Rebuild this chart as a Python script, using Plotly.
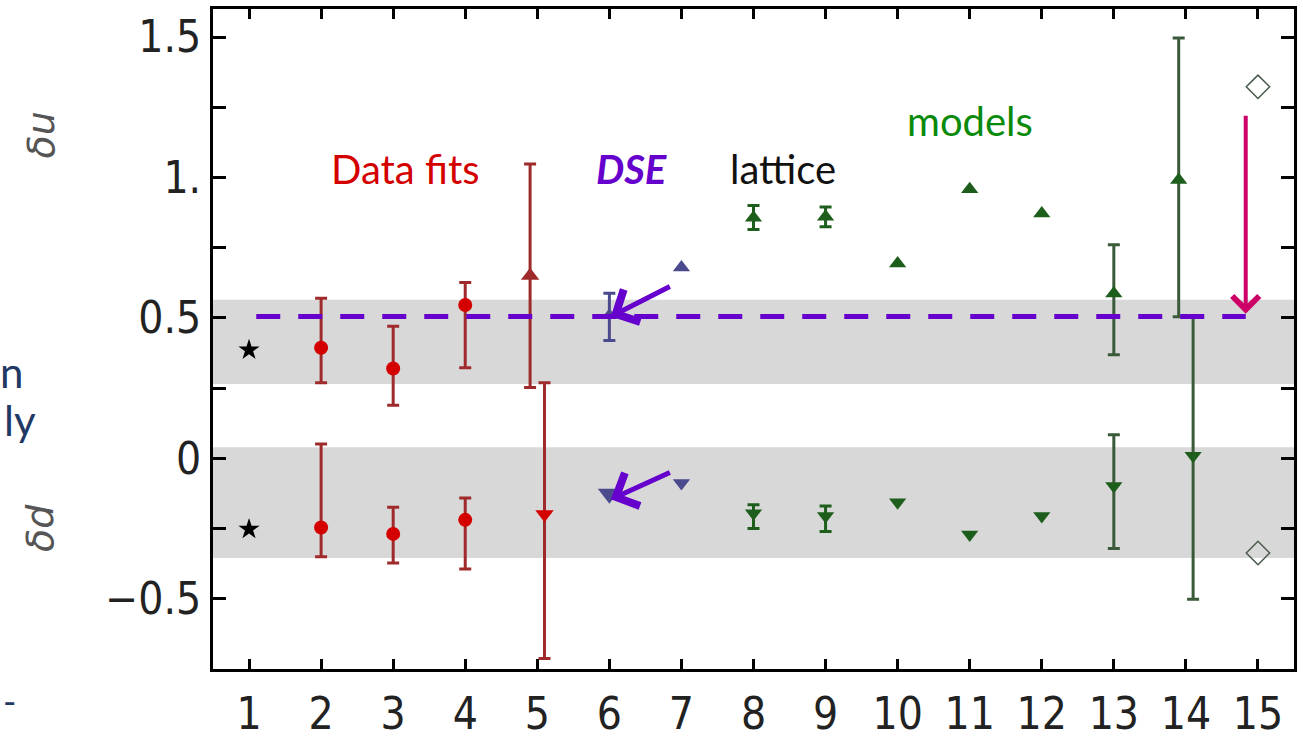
import plotly.graph_objects as go

# ---- data -------------------------------------------------------------
tick_x = list(range(1, 16))
y_tickvals = [-0.75, -0.5, -0.25, 0, 0.25, 0.5, 0.75, 1.0, 1.25, 1.5]
y_ticktext = ["", "\u22120.5", "", "0", "", "0.5", "", "1.", "", "1.5"]

# experiment (1)
exp_x = [1]
exp_u = [0.386]
exp_d = [-0.252]

# data fits (2-4), circles with error bars
fit_x = [2, 3, 4]
fit_u = [0.394, 0.320, 0.546]
fit_u_hi = [0.570, 0.470, 0.626]
fit_u_lo = [0.269, 0.189, 0.323]
fit_d = [-0.246, -0.269, -0.219]
fit_d_hi = [0.051, -0.174, -0.141]
fit_d_lo = [-0.350, -0.373, -0.394]

# data fit (5), triangles with error bars
fit5_x = [5]
fit5_u = [0.650]
fit5_u_hi = [1.048]
fit5_u_lo = [0.252]
fit5_d = [-0.199]
fit5_d_hi = [0.269]
fit5_d_lo = [-0.713]

# DSE (6)
dse_x = [6]
dse_u = [0.510]
dse_u_hi = [0.588]
dse_u_lo = [0.420]
dse_d = [-0.126]

# lattice (7)
lat_x = [7]
lat_u = [0.680]
lat_d = [-0.088]

# models with small error bars (8, 9)
modA_x = [8, 9]
modA_u = [0.857, 0.860]
modA_u_hi = [0.900, 0.895]
modA_u_lo = [0.815, 0.825]
modA_d = [-0.195, -0.205]
modA_d_hi = [-0.165, -0.170]
modA_d_lo = [-0.250, -0.260]

# models without error bars (10-12)
modB_x = [10, 11, 12]
modB_u = [0.694, 0.958, 0.872]
modB_d = [-0.156, -0.271, -0.205]

# model (13)
mod13_x = [13]
mod13_u = [0.587]
mod13_u_hi = [0.761]
mod13_u_lo = [0.369]
mod13_d = [-0.098]
mod13_d_hi = [0.084]
mod13_d_lo = [-0.321]

# model (14)
mod14_x = [14]
mod14_u = [0.991]
mod14_u_hi = [1.497]
mod14_u_lo = [0.504]
mod14_d = [0.009]
mod14_d_hi = [0.504]
mod14_d_lo = [-0.502]

# (15) open diamonds
d15_x = [15]
d15_u = [1.323]
d15_d = [-0.337]

# shaded bands and reference level
band_u = [0.265, 0.565]
band_d = [-0.355, 0.040]
ref_level = 0.505

# ---- styles -----------------------------------------------------------
RED = "#d40000"
RED_BAR = "#9e2a2b"
BLUE = "#4b4a8c"
GREEN = "#1d5e1d"
GREEN_BAR = "#3a5a3a"
PURPLE = "#6600cc"
MAGENTA = "#cc0066"
NAVY = "#1f3864"
DODGE = 0.1

AXIS_FONT = dict(family="Liberation Sans Narrow, DejaVu Sans Condensed, Liberation Sans, Arial",
                 size=44, color="#222222")
TEXT_FAMILY = "Lato, Open Sans, sans-serif"


def err(center, hi, lo):
    return dict(type="data", symmetric=False,
                array=[h - c for h, c in zip(hi, center)],
                arrayminus=[c - l for c, l in zip(center, lo)])


def shift(xs, d):
    return [x + d for x in xs]


fig = go.Figure()


def add(x, y, symbol, color, size, e=None, barcolor=None, line=None):
    marker = dict(symbol=symbol, color=color, size=size)
    if line is not None:
        marker["line"] = line
    kw = {}
    if e is not None:
        e.update(color=barcolor or color, thickness=3, width=6)
        kw["error_y"] = e
    fig.add_trace(go.Scatter(x=x, y=y, mode="markers", marker=marker,
                             showlegend=False, cliponaxis=False, **kw))


# experiment
add(exp_x, exp_u, "star", "black", 16)
add(exp_x, exp_d, "star", "black", 16)
# data fits
add(fit_x, fit_u, "circle", RED, 14, err(fit_u, fit_u_hi, fit_u_lo), RED_BAR)
add(fit_x, fit_d, "circle", RED, 14, err(fit_d, fit_d_hi, fit_d_lo), RED_BAR)
add(shift(fit5_x, -DODGE), fit5_u, "triangle-up", RED_BAR, 16, err(fit5_u, fit5_u_hi, fit5_u_lo), RED_BAR)
add(shift(fit5_x, DODGE), fit5_d, "triangle-down", RED, 16, err(fit5_d, fit5_d_hi, fit5_d_lo), RED_BAR)
# DSE
add(dse_x, dse_u, "triangle-up", BLUE, 14, err(dse_u, dse_u_hi, dse_u_lo), BLUE)
add(dse_x, dse_d, "triangle-down", BLUE, 20)
# lattice
add(lat_x, lat_u, "triangle-up", BLUE, 15)
add(lat_x, lat_d, "triangle-down", BLUE, 15)
# models
add(modA_x, modA_u, "triangle-up", GREEN, 15, err(modA_u, modA_u_hi, modA_u_lo), GREEN)
add(modA_x, modA_d, "triangle-down", GREEN, 15, err(modA_d, modA_d_hi, modA_d_lo), GREEN)
add(modB_x, modB_u, "triangle-up", GREEN, 15)
add(modB_x, modB_d, "triangle-down", GREEN, 15)
add(mod13_x, mod13_u, "triangle-up", GREEN, 15, err(mod13_u, mod13_u_hi, mod13_u_lo), GREEN_BAR)
add(mod13_x, mod13_d, "triangle-down", GREEN, 15, err(mod13_d, mod13_d_hi, mod13_d_lo), GREEN_BAR)
add(shift(mod14_x, -DODGE), mod14_u, "triangle-up", GREEN, 15, err(mod14_u, mod14_u_hi, mod14_u_lo), GREEN_BAR)
add(shift(mod14_x, DODGE), mod14_d, "triangle-down", GREEN, 15, err(mod14_d, mod14_d_hi, mod14_d_lo), GREEN_BAR)
# open diamonds
add(d15_x, d15_u, "diamond-open", "#4a5a4a", 18, line=dict(width=1.5))
add(d15_x, d15_d, "diamond-open", "#4a5a4a", 18, line=dict(width=1.5))

# shaded bands
for lo, hi in (band_u, band_d):
    fig.add_shape(type="rect", xref="paper", x0=0, x1=1, yref="y", y0=lo, y1=hi,
                  fillcolor="#d8d8d8", line_width=0, layer="below")

# dashed reference level
fig.add_shape(type="line", xref="x", yref="y", x0=1.1, x1=14.83,
              y0=ref_level, y1=ref_level,
              line=dict(color=PURPLE, width=5, dash="24px,18px"))

# arrows
arrow = dict(xref="x", yref="y", axref="x", ayref="y", text="", showarrow=True,
             arrowhead=4)
fig.add_annotation(x=6.02, y=ref_level, ax=6.86, ay=0.615,
                   arrowcolor=PURPLE, arrowwidth=5, arrowsize=1.4, **arrow)
fig.add_annotation(x=6.02, y=dse_d[0] - 0.02, ax=6.86, ay=-0.048,
                   arrowcolor=PURPLE, arrowwidth=5, arrowsize=1.4, **arrow)
fig.add_annotation(x=14.83, y=ref_level + 0.01, ax=14.83, ay=1.225,
                   arrowcolor=MAGENTA, arrowwidth=4, arrowsize=1.3, **arrow)

# group labels
labels = [
    ("Data fits", 3.17, 1.03, RED, False, False),
    ("DSE", 6.31, 1.03, PURPLE, True, True),
    ("lattice", 8.41, 1.03, "#111111", False, False),
    ("models", 11.01, 1.2, "#0a8a0a", False, False),
]
for txt, x, y, c, bold, ital in labels:
    if bold:
        txt = "<b>" + txt + "</b>"
    if ital:
        txt = "<i>" + txt + "</i>"
    fig.add_annotation(x=x, y=y, xref="x", yref="y", text=txt, showarrow=False,
                       font=dict(family=TEXT_FAMILY, size=40, color=c))

# side labels
W, H, L, T = 1084, 676, 213, 9


def px(xp):
    return (xp - L) / W


def py(yp):
    return 1 - (yp - T) / H


for txt, yp in (("\u03b4u", 138), ("\u03b4d", 540)):
    fig.add_annotation(x=px(40), y=py(yp), xref="paper", yref="paper", text="<i>" + txt + "</i>",
                       showarrow=False, textangle=-90, xanchor="center", yanchor="middle",
                       font=dict(family="DejaVu Sans", size=38, color="#555555"))

for txt, xr, yp in (("n", 24, 381), ("ly", 38, 430)):
    fig.add_annotation(x=px(xr), y=py(yp), xref="paper", yref="paper", text=txt,
                       showarrow=False, xanchor="right", yanchor="middle",
                       font=dict(family=TEXT_FAMILY, size=42, color=NAVY))
fig.add_annotation(x=px(0), y=py(718), xref="paper", yref="paper", text="-",
                   showarrow=False, xanchor="left", yanchor="middle",
                   font=dict(family=TEXT_FAMILY, size=36, color=NAVY))

fig.update_layout(
    width=1303, height=745,
    margin=dict(l=L, r=6, t=T, b=60),
    paper_bgcolor="white", plot_bgcolor="white",
    showlegend=False,
    xaxis=dict(range=[0.5, 15.5], tickvals=tick_x, ticks="inside", ticklen=10,
               tickwidth=2.5, tickcolor="black", showline=True, linewidth=3,
               linecolor="black", mirror="ticks", showgrid=False, zeroline=False,
               tickfont=AXIS_FONT, ticklabelstandoff=4),
    yaxis=dict(range=[-0.75, 1.6], tickvals=y_tickvals, ticktext=y_ticktext,
               ticks="inside", ticklen=13, tickwidth=2.5, tickcolor="black",
               showline=True, linewidth=3, linecolor="black", mirror="ticks",
               showgrid=False, zeroline=False, tickfont=AXIS_FONT),
)

fig.write_html("out.html")
